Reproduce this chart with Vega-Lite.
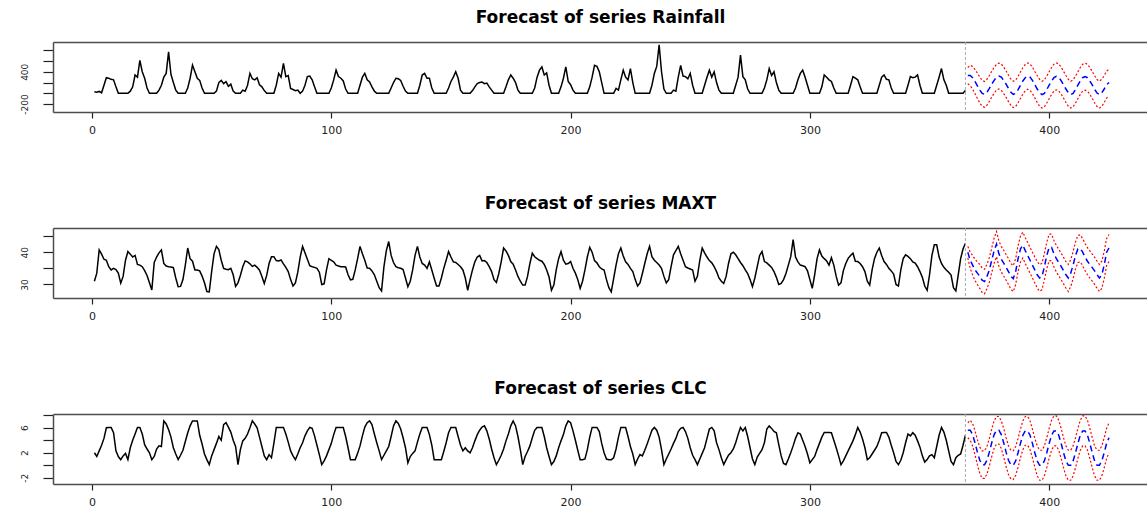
{
"$schema": "https://vega.github.io/schema/vega-lite/v6.json",
"background": "white",
"padding": {"left": 19, "top": 8, "right": 0, "bottom": 0},
"config": {
 "view": {"stroke": null},
 "font": "DejaVu Sans",
 "axis": {"domainColor": "#4d4d4d", "domainWidth": 1.5, "tickColor": "#222222", "tickWidth": 1.2, "labelColor": "#222222", "labelFont": "DejaVu Sans", "grid": false},
 "axisY": {"tickSize": 10, "labelAngle": 270, "labelAlign": "center", "labelBaseline": "bottom", "labelFontSize": 9, "labelPadding": 14},
 "axisX": {"tickSize": 6, "labelPadding": 6, "labelFontSize": 11},
 "title": {"font": "DejaVu Sans", "fontSize": 17, "fontWeight": "bold", "color": "#000000", "anchor": "middle", "frame": "group", "offset": 15, "baseline": "alphabetic"}
},
"datasets": {
"vline": [{"t": 365}],
"hist": [
{"t":1,"r":30,"m":31.0,"c":2.0},{"t":2,"r":20,"m":33.5,"c":1.4},{"t":3,"r":35,"m":40.7,"c":2.3},{"t":4,"r":10,"m":39.4,"c":3.2},{"t":5,"r":150,"m":37.8,"c":4.3},
{"t":6,"r":290,"m":37.5,"c":6.0},{"t":7,"r":280,"m":35.5,"c":6.05},{"t":8,"r":260,"m":34.5,"c":6.05},{"t":9,"r":250,"m":35,"c":5.2},{"t":10,"r":120,"m":34.6,"c":2.3},
{"t":11,"r":0,"m":33.5,"c":1.4},{"t":12,"r":0,"m":30.4,"c":0.9},{"t":13,"r":0,"m":32.5,"c":1.5},{"t":14,"r":0,"m":37.5,"c":1.9},{"t":15,"r":0,"m":40.2,"c":0.9},
{"t":16,"r":40,"m":39.4,"c":2.8},{"t":17,"r":120,"m":38.5,"c":4.0},{"t":18,"r":340,"m":39,"c":5.0},{"t":19,"r":300,"m":36.2,"c":6.05},{"t":20,"r":610,"m":36,"c":6.05},
{"t":21,"r":400,"m":35.5,"c":5.0},{"t":22,"r":280,"m":34.3,"c":3.3},{"t":23,"r":100,"m":32.8,"c":2.6},{"t":24,"r":0,"m":30.5,"c":2.0},{"t":25,"r":0,"m":28.3,"c":0.9},
{"t":26,"r":0,"m":36.8,"c":1.4},{"t":27,"r":0,"m":38.5,"c":2.6},{"t":28,"r":60,"m":39.8,"c":3.1},{"t":29,"r":150,"m":40.7,"c":3.0},{"t":30,"r":300,"m":36.5,"c":7.1},
{"t":31,"r":370,"m":35.7,"c":6.6},{"t":32,"r":770,"m":35.5,"c":5.7},{"t":33,"r":350,"m":35.4,"c":4.5},{"t":34,"r":200,"m":35.2,"c":2.8},{"t":35,"r":60,"m":32,"c":1.8},
{"t":36,"r":0,"m":29.3,"c":0.9},{"t":37,"r":0,"m":29.4,"c":1.6},{"t":38,"r":0,"m":31.5,"c":2.4},{"t":39,"r":0,"m":36,"c":3.8},{"t":40,"r":100,"m":41.3,"c":5.2},
{"t":41,"r":280,"m":38,"c":6.3},{"t":42,"r":525,"m":37.2,"c":7.1},{"t":43,"r":400,"m":34.5,"c":7.1},{"t":44,"r":280,"m":34.5,"c":7.1},{"t":45,"r":240,"m":34.2,"c":4.8},
{"t":46,"r":100,"m":32.6,"c":3.4},{"t":47,"r":0,"m":30.5,"c":1.8},{"t":48,"r":0,"m":27.8,"c":0.9},{"t":49,"r":0,"m":27.7,"c":0.1},{"t":50,"r":0,"m":34,"c":1.5},
{"t":51,"r":0,"m":39.5,"c":2.5},{"t":52,"r":40,"m":41.8,"c":3.5},{"t":53,"r":200,"m":40.8,"c":4.6},{"t":54,"r":240,"m":37.5,"c":4.0},{"t":55,"r":180,"m":35,"c":6.5},
{"t":56,"r":216,"m":34.7,"c":6.8},{"t":57,"r":130,"m":34.6,"c":6.1},{"t":58,"r":170,"m":35,"c":5.3},{"t":59,"r":40,"m":33,"c":4.0},{"t":60,"r":0,"m":29.4,"c":3.0},
{"t":61,"r":0,"m":30.5,"c":0.1},{"t":62,"r":0,"m":32.8,"c":2.5},{"t":63,"r":60,"m":35.5,"c":3.9},{"t":64,"r":40,"m":37.3,"c":4.3},{"t":65,"r":150,"m":37,"c":5.0},
{"t":66,"r":370,"m":36.4,"c":6.0},{"t":67,"r":270,"m":35.6,"c":7.1},{"t":68,"r":250,"m":36,"c":6.6},{"t":69,"r":290,"m":35.3,"c":6.0},{"t":70,"r":160,"m":34.4,"c":4.5},
{"t":71,"r":120,"m":32.5,"c":3.0},{"t":72,"r":50,"m":30.3,"c":1.5},{"t":73,"r":0,"m":32.8,"c":0.9},{"t":74,"r":0,"m":36.5,"c":1.7},{"t":75,"r":0,"m":38.6,"c":1.2},
{"t":76,"r":0,"m":38.6,"c":3.5},{"t":77,"r":150,"m":37.4,"c":6.05},{"t":78,"r":370,"m":37.3,"c":6.05},{"t":79,"r":300,"m":37.6,"c":6.05},{"t":80,"r":555,"m":36.4,"c":6.05},
{"t":81,"r":310,"m":35.3,"c":5.0},{"t":82,"r":330,"m":34,"c":3.7},{"t":83,"r":90,"m":31.5,"c":2.3},{"t":84,"r":70,"m":29.5,"c":1.5},{"t":85,"r":50,"m":30.5,"c":0.9},
{"t":86,"r":60,"m":33.8,"c":1.8},{"t":87,"r":0,"m":38.5,"c":2.8},{"t":88,"r":40,"m":41.8,"c":3.6},{"t":89,"r":150,"m":39.8,"c":4.7},{"t":90,"r":310,"m":37.8,"c":5.5},
{"t":91,"r":320,"m":35.8,"c":6.05},{"t":92,"r":250,"m":35.5,"c":5.9},{"t":93,"r":120,"m":35.3,"c":4.7},{"t":94,"r":0,"m":35,"c":3.2},{"t":95,"r":0,"m":33.8,"c":1.7},
{"t":96,"r":0,"m":30,"c":0.1},{"t":97,"r":0,"m":30.2,"c":0.7},{"t":98,"r":0,"m":34.5,"c":1.5},{"t":99,"r":0,"m":38,"c":2.5},{"t":100,"r":100,"m":37.5,"c":3.5},
{"t":101,"r":250,"m":37,"c":4.9},{"t":102,"r":430,"m":36,"c":6.05},{"t":103,"r":310,"m":35.7,"c":6.05},{"t":104,"r":280,"m":35.5,"c":6.05},{"t":105,"r":230,"m":35.5,"c":6.05},
{"t":106,"r":80,"m":35.4,"c":4.6},{"t":107,"r":0,"m":33,"c":2.8},{"t":108,"r":0,"m":31.4,"c":0.9},{"t":109,"r":0,"m":31.6,"c":0.9},{"t":110,"r":0,"m":34.5,"c":0.9},
{"t":111,"r":0,"m":38,"c":1.9},{"t":112,"r":150,"m":41.8,"c":3.1},{"t":113,"r":300,"m":39.5,"c":4.7},{"t":114,"r":370,"m":37.5,"c":6.1},{"t":115,"r":250,"m":35.1,"c":6.8},
{"t":116,"r":210,"m":35,"c":7.1},{"t":117,"r":120,"m":34.2,"c":6.5},{"t":118,"r":40,"m":33,"c":5.0},{"t":119,"r":0,"m":31,"c":3.6},{"t":120,"r":0,"m":29,"c":2.3},
{"t":121,"r":0,"m":28,"c":0.9},{"t":122,"r":0,"m":35.5,"c":1.6},{"t":123,"r":0,"m":40.5,"c":2.3},{"t":124,"r":0,"m":43.3,"c":3.0},{"t":125,"r":100,"m":39,"c":4.6},
{"t":126,"r":200,"m":36.8,"c":6.3},{"t":127,"r":280,"m":35.5,"c":7.1},{"t":128,"r":270,"m":35.2,"c":6.7},{"t":129,"r":240,"m":35,"c":5.8},{"t":130,"r":130,"m":34.6,"c":4.4},
{"t":131,"r":40,"m":32,"c":2.8},{"t":132,"r":0,"m":29.3,"c":0.4},{"t":133,"r":0,"m":31,"c":1.4},{"t":134,"r":0,"m":34.5,"c":1.9},{"t":135,"r":0,"m":39,"c":2.3},
{"t":136,"r":0,"m":41.8,"c":3.7},{"t":137,"r":150,"m":38.5,"c":5.0},{"t":138,"r":340,"m":36.5,"c":6.05},{"t":139,"r":370,"m":36,"c":6.05},{"t":140,"r":280,"m":35,"c":6.05},
{"t":141,"r":280,"m":37,"c":4.9},{"t":142,"r":100,"m":34.5,"c":3.2},{"t":143,"r":0,"m":31.9,"c":0.9},{"t":144,"r":0,"m":29.5,"c":0.9},{"t":145,"r":0,"m":29.5,"c":0.9},
{"t":146,"r":0,"m":32,"c":0.9},{"t":147,"r":0,"m":35,"c":2.2},{"t":148,"r":0,"m":37.5,"c":3.6},{"t":149,"r":100,"m":40.2,"c":5.2},{"t":150,"r":220,"m":38.5,"c":6.05},
{"t":151,"r":300,"m":37,"c":6.05},{"t":152,"r":400,"m":36.8,"c":6.05},{"t":153,"r":280,"m":36.2,"c":4.6},{"t":154,"r":60,"m":35.5,"c":3.2},{"t":155,"r":0,"m":34.5,"c":2.3},
{"t":156,"r":0,"m":32,"c":2.8},{"t":157,"r":0,"m":28.2,"c":2.3},{"t":158,"r":0,"m":31.5,"c":2.0},{"t":159,"r":50,"m":34.5,"c":2.8},{"t":160,"r":120,"m":37,"c":3.9},
{"t":161,"r":180,"m":38.5,"c":4.9},{"t":162,"r":200,"m":39,"c":5.6},{"t":163,"r":210,"m":37.3,"c":6.1},{"t":164,"r":180,"m":37.4,"c":6.3},{"t":165,"r":190,"m":36.8,"c":5.5},
{"t":166,"r":120,"m":35.5,"c":4.2},{"t":167,"r":60,"m":34,"c":2.6},{"t":168,"r":0,"m":31.5,"c":1.2},{"t":169,"r":0,"m":30.6,"c":0.1},{"t":170,"r":0,"m":33.4,"c":0.8},
{"t":171,"r":0,"m":37,"c":1.6},{"t":172,"r":0,"m":41.3,"c":2.6},{"t":173,"r":120,"m":40.4,"c":3.9},{"t":174,"r":250,"m":39,"c":5.0},{"t":175,"r":340,"m":37.1,"c":6.3},
{"t":176,"r":280,"m":36.3,"c":7.1},{"t":177,"r":200,"m":34.5,"c":6.3},{"t":178,"r":60,"m":32.5,"c":4.6},{"t":179,"r":0,"m":31,"c":2.5},{"t":180,"r":0,"m":29.8,"c":0.1},
{"t":181,"r":0,"m":29.8,"c":1.4},{"t":182,"r":0,"m":32.5,"c":2.2},{"t":183,"r":0,"m":36.5,"c":3.1},{"t":184,"r":0,"m":39.7,"c":4.4},{"t":185,"r":100,"m":38.6,"c":5.6},
{"t":186,"r":300,"m":38,"c":6.05},{"t":187,"r":430,"m":37.5,"c":6.05},{"t":188,"r":490,"m":37.2,"c":6.05},{"t":189,"r":340,"m":36.2,"c":4.6},{"t":190,"r":380,"m":34.5,"c":2.8},
{"t":191,"r":150,"m":32.3,"c":1.4},{"t":192,"r":0,"m":28.2,"c":0.1},{"t":193,"r":0,"m":29.8,"c":0.6},{"t":194,"r":0,"m":34.5,"c":1.5},{"t":195,"r":0,"m":38,"c":2.8},
{"t":196,"r":120,"m":40.2,"c":3.9},{"t":197,"r":280,"m":37.5,"c":4.9},{"t":198,"r":490,"m":36.3,"c":6.3},{"t":199,"r":220,"m":36.5,"c":7.1},{"t":200,"r":160,"m":37.1,"c":6.8},
{"t":201,"r":60,"m":35,"c":5.5},{"t":202,"r":0,"m":33.5,"c":4.0},{"t":203,"r":0,"m":31.5,"c":2.4},{"t":204,"r":0,"m":28.8,"c":0.9},{"t":205,"r":0,"m":31,"c":0.9},
{"t":206,"r":0,"m":34.5,"c":1.0},{"t":207,"r":0,"m":38.5,"c":2.5},{"t":208,"r":120,"m":41.5,"c":4.5},{"t":209,"r":300,"m":40,"c":6.05},{"t":210,"r":520,"m":37.4,"c":6.05},
{"t":211,"r":500,"m":36.7,"c":6.05},{"t":212,"r":400,"m":35.5,"c":5.4},{"t":213,"r":200,"m":34.8,"c":3.5},{"t":214,"r":0,"m":34.5,"c":2.0},{"t":215,"r":0,"m":31.5,"c":1.0},
{"t":216,"r":0,"m":29,"c":0.9},{"t":217,"r":0,"m":27.7,"c":0.9},{"t":218,"r":0,"m":31.9,"c":1.2},{"t":219,"r":90,"m":36,"c":2.6},{"t":220,"r":60,"m":39.5,"c":4.5},
{"t":221,"r":250,"m":41.3,"c":6.05},{"t":222,"r":430,"m":38.8,"c":6.05},{"t":223,"r":300,"m":37,"c":6.05},{"t":224,"r":250,"m":36.2,"c":4.6},{"t":225,"r":460,"m":35,"c":3.0},
{"t":226,"r":200,"m":34,"c":1.8},{"t":227,"r":0,"m":31.5,"c":0.1},{"t":228,"r":0,"m":29.5,"c":1.0},{"t":229,"r":0,"m":30.5,"c":1.7},{"t":230,"r":0,"m":33.4,"c":1.5},
{"t":231,"r":0,"m":36.5,"c":2.4},{"t":232,"r":0,"m":39.5,"c":3.4},{"t":233,"r":0,"m":41.8,"c":4.5},{"t":234,"r":150,"m":38.6,"c":5.6},{"t":235,"r":370,"m":37.5,"c":6.05},
{"t":236,"r":500,"m":36.8,"c":5.6},{"t":237,"r":900,"m":36,"c":4.5},{"t":238,"r":400,"m":35,"c":2.5},{"t":239,"r":80,"m":32.5,"c":0.1},{"t":240,"r":0,"m":30.5,"c":1.0},
{"t":241,"r":0,"m":31.5,"c":1.8},{"t":242,"r":0,"m":35.5,"c":2.6},{"t":243,"r":60,"m":39.2,"c":3.5},{"t":244,"r":40,"m":40.5,"c":4.3},{"t":245,"r":300,"m":41.8,"c":5.4},
{"t":246,"r":520,"m":39.5,"c":5.9},{"t":247,"r":320,"m":37.5,"c":6.05},{"t":248,"r":310,"m":35.5,"c":5.4},{"t":249,"r":270,"m":35.1,"c":4.3},{"t":250,"r":370,"m":34.8,"c":2.8},
{"t":251,"r":150,"m":34.5,"c":1.6},{"t":252,"r":0,"m":31,"c":0.9},{"t":253,"r":0,"m":32.5,"c":0.1},{"t":254,"r":0,"m":37.5,"c":1.0},{"t":255,"r":0,"m":41.3,"c":1.9},
{"t":256,"r":150,"m":39.8,"c":2.8},{"t":257,"r":300,"m":38.5,"c":4.3},{"t":258,"r":430,"m":37.4,"c":5.8},{"t":259,"r":300,"m":36.7,"c":6.05},{"t":260,"r":400,"m":35.5,"c":5.5},
{"t":261,"r":200,"m":34,"c":3.6},{"t":262,"r":60,"m":32,"c":2.5},{"t":263,"r":0,"m":31,"c":1.2},{"t":264,"r":0,"m":30.3,"c":0.1},{"t":265,"r":0,"m":32.5,"c":0.9},
{"t":266,"r":0,"m":36.5,"c":1.6},{"t":267,"r":0,"m":39.5,"c":2.0},{"t":268,"r":0,"m":40,"c":2.6},{"t":269,"r":150,"m":39.2,"c":3.6},{"t":270,"r":300,"m":38,"c":4.9},
{"t":271,"r":710,"m":36.8,"c":6.05},{"t":272,"r":310,"m":35.8,"c":5.5},{"t":273,"r":250,"m":34.5,"c":6.05},{"t":274,"r":80,"m":33.4,"c":4.6},{"t":275,"r":0,"m":31.5,"c":2.8},
{"t":276,"r":0,"m":29.3,"c":1.0},{"t":277,"r":0,"m":32,"c":0.1},{"t":278,"r":0,"m":35.5,"c":1.3},{"t":279,"r":0,"m":39,"c":1.9},{"t":280,"r":0,"m":40.2,"c":2.5},
{"t":281,"r":100,"m":37.1,"c":3.6},{"t":282,"r":250,"m":36.7,"c":5.8},{"t":283,"r":460,"m":36,"c":6.3},{"t":284,"r":330,"m":35.3,"c":5.9},{"t":285,"r":400,"m":34,"c":5.4},
{"t":286,"r":200,"m":32.2,"c":5.2},{"t":287,"r":60,"m":30,"c":3.3},{"t":288,"r":0,"m":30.3,"c":1.5},{"t":289,"r":0,"m":31.5,"c":0.3},{"t":290,"r":0,"m":33.4,"c":0.1},
{"t":291,"r":0,"m":36,"c":1.0},{"t":292,"r":0,"m":38.6,"c":2.0},{"t":293,"r":0,"m":43.9,"c":3.1},{"t":294,"r":100,"m":38.5,"c":4.3},{"t":295,"r":250,"m":37,"c":5.2},
{"t":296,"r":370,"m":36,"c":5.0},{"t":297,"r":430,"m":35.8,"c":4.0},{"t":298,"r":300,"m":35.5,"c":3.0},{"t":299,"r":150,"m":34.2,"c":1.8},{"t":300,"r":0,"m":31.5,"c":0.4},
{"t":301,"r":0,"m":28.8,"c":0.9},{"t":302,"r":0,"m":33,"c":1.4},{"t":303,"r":0,"m":38,"c":2.5},{"t":304,"r":0,"m":40.7,"c":3.5},{"t":305,"r":120,"m":38.8,"c":4.5},
{"t":306,"r":340,"m":38,"c":5.24},{"t":307,"r":300,"m":37.3,"c":5.24},{"t":308,"r":250,"m":36,"c":5.24},{"t":309,"r":220,"m":38.3,"c":5.2},{"t":310,"r":100,"m":36,"c":4.0},
{"t":311,"r":0,"m":32.5,"c":2.8},{"t":312,"r":0,"m":29.8,"c":1.5},{"t":313,"r":0,"m":30.5,"c":0.1},{"t":314,"r":0,"m":34.3,"c":0.7},{"t":315,"r":0,"m":36.5,"c":1.5},
{"t":316,"r":0,"m":38.1,"c":2.3},{"t":317,"r":150,"m":39,"c":3.1},{"t":318,"r":310,"m":39.7,"c":3.9},{"t":319,"r":280,"m":37.2,"c":4.9},{"t":320,"r":250,"m":37.1,"c":6.05},
{"t":321,"r":120,"m":36.5,"c":5.3},{"t":322,"r":0,"m":35.5,"c":4.2},{"t":323,"r":0,"m":34,"c":2.8},{"t":324,"r":0,"m":31,"c":0.9},{"t":325,"r":0,"m":29.8,"c":1.2},
{"t":326,"r":0,"m":34.5,"c":1.8},{"t":327,"r":0,"m":38,"c":2.4},{"t":328,"r":0,"m":40,"c":3.0},{"t":329,"r":150,"m":41.3,"c":4.0},{"t":330,"r":300,"m":39,"c":5.2},
{"t":331,"r":340,"m":37.1,"c":5.24},{"t":332,"r":260,"m":36.2,"c":5.24},{"t":333,"r":250,"m":35,"c":4.5},{"t":334,"r":100,"m":34.2,"c":3.2},{"t":335,"r":0,"m":33.2,"c":2.0},
{"t":336,"r":0,"m":30,"c":0.6},{"t":337,"r":0,"m":29.5,"c":0.1},{"t":338,"r":0,"m":34.5,"c":0.8},{"t":339,"r":0,"m":38,"c":2.0},{"t":340,"r":0,"m":39.2,"c":3.6},
{"t":341,"r":150,"m":38.7,"c":5.0},{"t":342,"r":310,"m":38,"c":4.7},{"t":343,"r":290,"m":37,"c":5.2},{"t":344,"r":300,"m":36.6,"c":4.8},{"t":345,"r":340,"m":35.5,"c":3.9},
{"t":346,"r":150,"m":34,"c":2.9},{"t":347,"r":0,"m":32.2,"c":1.5},{"t":348,"r":0,"m":29.5,"c":0.5},{"t":349,"r":0,"m":28.2,"c":0.9},{"t":350,"r":0,"m":33,"c":1.5},
{"t":351,"r":0,"m":39,"c":1.7},{"t":352,"r":0,"m":42.3,"c":1.2},{"t":353,"r":150,"m":42.3,"c":3.0},{"t":354,"r":300,"m":38.5,"c":4.8},{"t":355,"r":460,"m":36.5,"c":6.05},
{"t":356,"r":250,"m":35.3,"c":5.3},{"t":357,"r":150,"m":34.5,"c":4.0},{"t":358,"r":0,"m":33.8,"c":2.3},{"t":359,"r":0,"m":32.9,"c":0.6},{"t":360,"r":0,"m":29,"c":0.1},
{"t":361,"r":0,"m":28,"c":1.2},{"t":362,"r":0,"m":33,"c":1.6},{"t":363,"r":0,"m":38,"c":1.8},{"t":364,"r":0,"m":41,"c":3.2},{"t":365,"r":50,"m":42.8,"c":4.8}
],
"fc": [
{"t":366,"rm":330,"rl":180,"ru":480,"mm":40,"ml":38.2,"mu":41.8,"cm":5.6,"cl":4.4,"cu":6.8},
{"t":367,"rm":330,"rl":140,"ru":520,"mm":37.5,"ml":35,"mu":40,"cm":5.6,"cl":4.0,"cu":7.2},
{"t":368,"rm":290,"rl":80,"ru":500,"mm":36,"ml":33,"mu":39,"cm":4.9,"cl":3.1,"cu":6.7},
{"t":369,"rm":220,"rl":-5,"ru":445,"mm":34.5,"ml":31.2,"mu":37.8,"cm":3.6,"cl":1.7,"cu":5.5},
{"t":370,"rm":140,"rl":-95,"ru":375,"mm":33.5,"ml":30,"mu":37,"cm":2.1,"cl":0.1,"cu":4.1},
{"t":371,"rm":60,"rl":-180,"ru":300,"mm":32.5,"ml":28.8,"mu":36.2,"cm":0.8,"cl":-1.3,"cu":2.9},
{"t":372,"rm":0,"rl":-240,"ru":240,"mm":31.3,"ml":27.5,"mu":35.1,"cm":0.1,"cl":-2.1,"cu":2.3},
{"t":373,"rm":-20,"rl":-260,"ru":220,"mm":30.9,"ml":27.1,"mu":34.7,"cm":0.1,"cl":-2.1,"cu":2.3},
{"t":374,"rm":20,"rl":-220,"ru":260,"mm":32.5,"ml":28.7,"mu":36.3,"cm":0.8,"cl":-1.4,"cu":3.0},
{"t":375,"rm":90,"rl":-150,"ru":330,"mm":34.5,"ml":30.7,"mu":38.3,"cm":2.1,"cl":-0.1,"cu":4.3},
{"t":376,"rm":170,"rl":-70,"ru":410,"mm":37.5,"ml":33.7,"mu":41.3,"cm":3.6,"cl":1.4,"cu":5.8},
{"t":377,"rm":240,"rl":0,"ru":480,"mm":40.5,"ml":36.6,"mu":44.4,"cm":4.9,"cl":2.7,"cu":7.1},
{"t":378,"rm":300,"rl":60,"ru":540,"mm":42.5,"ml":38.6,"mu":46.4,"cm":5.6,"cl":3.4,"cu":7.8},
{"t":379,"rm":320,"rl":80,"ru":560,"mm":39.5,"ml":35.6,"mu":43.4,"cm":5.6,"cl":3.4,"cu":7.8},
{"t":380,"rm":300,"rl":55,"ru":545,"mm":37.8,"ml":33.8,"mu":41.8,"cm":4.9,"cl":2.7,"cu":7.1},
{"t":381,"rm":240,"rl":-5,"ru":485,"mm":36.6,"ml":32.6,"mu":40.6,"cm":3.6,"cl":1.3,"cu":5.9},
{"t":382,"rm":170,"rl":-75,"ru":415,"mm":35.3,"ml":31.3,"mu":39.3,"cm":2.1,"cl":-0.2,"cu":4.4},
{"t":383,"rm":90,"rl":-155,"ru":335,"mm":34,"ml":30,"mu":38,"cm":0.8,"cl":-1.5,"cu":3.1},
{"t":384,"rm":20,"rl":-225,"ru":265,"mm":32.5,"ml":28.5,"mu":36.5,"cm":0.1,"cl":-2.2,"cu":2.4},
{"t":385,"rm":-20,"rl":-265,"ru":225,"mm":31.8,"ml":27.8,"mu":35.8,"cm":0.0,"cl":-2.3,"cu":2.3},
{"t":386,"rm":0,"rl":-245,"ru":245,"mm":34,"ml":30,"mu":38,"cm":0.7,"cl":-1.6,"cu":3.0},
{"t":387,"rm":70,"rl":-175,"ru":315,"mm":38,"ml":34,"mu":42,"cm":2.0,"cl":-0.3,"cu":4.3},
{"t":388,"rm":150,"rl":-95,"ru":395,"mm":41,"ml":37,"mu":45,"cm":3.5,"cl":1.2,"cu":5.8},
{"t":389,"rm":230,"rl":-15,"ru":475,"mm":42.2,"ml":38.2,"mu":46.2,"cm":4.8,"cl":2.5,"cu":7.1},
{"t":390,"rm":290,"rl":45,"ru":535,"mm":40.5,"ml":36.5,"mu":44.5,"cm":5.5,"cl":3.2,"cu":7.8},
{"t":391,"rm":320,"rl":75,"ru":565,"mm":39,"ml":35,"mu":43,"cm":5.5,"cl":3.2,"cu":7.8},
{"t":392,"rm":300,"rl":55,"ru":545,"mm":37.5,"ml":33.5,"mu":41.5,"cm":4.8,"cl":2.5,"cu":7.1},
{"t":393,"rm":240,"rl":-5,"ru":485,"mm":36,"ml":32,"mu":40,"cm":3.5,"cl":1.2,"cu":5.8},
{"t":394,"rm":160,"rl":-85,"ru":405,"mm":34.5,"ml":30.5,"mu":38.5,"cm":2.0,"cl":-0.3,"cu":4.3},
{"t":395,"rm":80,"rl":-170,"ru":330,"mm":33,"ml":28.9,"mu":37.1,"cm":0.7,"cl":-1.7,"cu":3.1},
{"t":396,"rm":10,"rl":-240,"ru":260,"mm":32,"ml":27.9,"mu":36.1,"cm":0.0,"cl":-2.4,"cu":2.4},
{"t":397,"rm":-25,"rl":-275,"ru":225,"mm":32.5,"ml":28.4,"mu":36.6,"cm":0.0,"cl":-2.4,"cu":2.4},
{"t":398,"rm":0,"rl":-250,"ru":250,"mm":35.5,"ml":31.4,"mu":39.6,"cm":0.7,"cl":-1.7,"cu":3.1},
{"t":399,"rm":70,"rl":-180,"ru":320,"mm":39,"ml":34.9,"mu":43.1,"cm":2.0,"cl":-0.4,"cu":4.4},
{"t":400,"rm":150,"rl":-100,"ru":400,"mm":41.5,"ml":37.4,"mu":45.6,"cm":3.5,"cl":1.1,"cu":5.9},
{"t":401,"rm":230,"rl":-20,"ru":480,"mm":41.5,"ml":37.4,"mu":45.6,"cm":4.8,"cl":2.4,"cu":7.2},
{"t":402,"rm":290,"rl":40,"ru":540,"mm":39.5,"ml":35.4,"mu":43.6,"cm":5.5,"cl":3.1,"cu":7.9},
{"t":403,"rm":315,"rl":65,"ru":565,"mm":38,"ml":33.9,"mu":42.1,"cm":5.5,"cl":3.1,"cu":7.9},
{"t":404,"rm":295,"rl":45,"ru":545,"mm":36.8,"ml":32.7,"mu":40.9,"cm":4.8,"cl":2.4,"cu":7.2},
{"t":405,"rm":235,"rl":-15,"ru":485,"mm":35.6,"ml":31.5,"mu":39.7,"cm":3.5,"cl":1.1,"cu":5.9},
{"t":406,"rm":160,"rl":-90,"ru":410,"mm":34.3,"ml":30.2,"mu":38.4,"cm":2.0,"cl":-0.4,"cu":4.4},
{"t":407,"rm":80,"rl":-170,"ru":330,"mm":33,"ml":28.9,"mu":37.1,"cm":0.7,"cl":-1.7,"cu":3.1},
{"t":408,"rm":10,"rl":-240,"ru":260,"mm":32,"ml":27.8,"mu":36.2,"cm":0.0,"cl":-2.4,"cu":2.4},
{"t":409,"rm":-25,"rl":-275,"ru":225,"mm":33.5,"ml":29.3,"mu":37.7,"cm":0.0,"cl":-2.4,"cu":2.4},
{"t":410,"rm":0,"rl":-250,"ru":250,"mm":36,"ml":31.8,"mu":40.2,"cm":0.7,"cl":-1.7,"cu":3.1},
{"t":411,"rm":70,"rl":-180,"ru":320,"mm":39,"ml":34.8,"mu":43.2,"cm":2.0,"cl":-0.4,"cu":4.4},
{"t":412,"rm":150,"rl":-100,"ru":400,"mm":41,"ml":36.8,"mu":45.2,"cm":3.5,"cl":1.1,"cu":5.9},
{"t":413,"rm":230,"rl":-20,"ru":480,"mm":41.2,"ml":37,"mu":45.4,"cm":4.8,"cl":2.4,"cu":7.2},
{"t":414,"rm":290,"rl":40,"ru":540,"mm":40,"ml":35.8,"mu":44.2,"cm":5.5,"cl":3.1,"cu":7.9},
{"t":415,"rm":310,"rl":60,"ru":560,"mm":38.5,"ml":34.3,"mu":42.7,"cm":5.5,"cl":3.1,"cu":7.9},
{"t":416,"rm":290,"rl":40,"ru":540,"mm":37.2,"ml":33,"mu":41.4,"cm":4.8,"cl":2.4,"cu":7.2},
{"t":417,"rm":230,"rl":-20,"ru":480,"mm":36.2,"ml":32,"mu":40.4,"cm":3.5,"cl":1.1,"cu":5.9},
{"t":418,"rm":155,"rl":-95,"ru":405,"mm":35.2,"ml":31,"mu":39.4,"cm":2.0,"cl":-0.4,"cu":4.4},
{"t":419,"rm":75,"rl":-175,"ru":325,"mm":34.2,"ml":30,"mu":38.4,"cm":0.7,"cl":-1.7,"cu":3.1},
{"t":420,"rm":5,"rl":-245,"ru":255,"mm":33,"ml":28.8,"mu":37.2,"cm":0.0,"cl":-2.4,"cu":2.4},
{"t":421,"rm":-25,"rl":-275,"ru":225,"mm":32,"ml":27.8,"mu":36.2,"cm":0.0,"cl":-2.4,"cu":2.4},
{"t":422,"rm":10,"rl":-240,"ru":260,"mm":33,"ml":28.8,"mu":37.2,"cm":0.7,"cl":-1.7,"cu":3.1},
{"t":423,"rm":80,"rl":-170,"ru":330,"mm":36,"ml":31.8,"mu":40.2,"cm":2.0,"cl":-0.4,"cu":4.4},
{"t":424,"rm":160,"rl":-90,"ru":410,"mm":40,"ml":35.8,"mu":44.2,"cm":3.5,"cl":1.1,"cu":5.9},
{"t":425,"rm":200,"rl":-50,"ru":450,"mm":41.3,"ml":37.1,"mu":45.5,"cm":4.4,"cl":2.0,"cu":6.8}
]
},
"bounds": "flush",
"spacing": 116,
"vconcat": [
{
 "title": "Forecast of series Rainfall",
 "width": 1095, "height": 70,
 "layer": [
  {"data": {"name": "hist"}, "mark": {"type": "line", "color": "#000000", "strokeWidth": 1.5},
   "encoding": {
    "x": {"field": "t", "type": "quantitative", "scale": {"domain": [-16.3, 441.3], "nice": false, "zero": false}, "axis": {"orient": "bottom", "values": [0, 100, 200, 300, 400], "title": null, "labelOverlap": false}},
    "y": {"field": "r", "type": "quantitative", "scale": {"domain": [-347, 953], "nice": false, "zero": false}, "axis": {"values": [-200, 0, 200, 400, 600, 800], "title": null, "labelOverlap": false, "labelExpr": "datum.value == 400 ? '400' : datum.value == -200 ? '-200' : ''"}}}},
  {"data": {"name": "fc"}, "mark": {"type": "line", "color": "#ff0000", "strokeDash": [2, 2], "strokeWidth": 1.2},
   "encoding": {"x": {"field": "t", "type": "quantitative", "scale": {"domain": [-16.3, 441.3], "nice": false, "zero": false}, "axis": null},
    "y": {"field": "ru", "type": "quantitative", "scale": {"domain": [-347, 953], "nice": false, "zero": false}, "axis": {"values": [-200, 0, 200, 400, 600, 800], "title": null, "labelOverlap": false, "labelExpr": "datum.value == 400 ? '400' : datum.value == -200 ? '-200' : ''"}}}},
  {"data": {"name": "fc"}, "mark": {"type": "line", "color": "#ff0000", "strokeDash": [2, 2], "strokeWidth": 1.2},
   "encoding": {"x": {"field": "t", "type": "quantitative", "scale": {"domain": [-16.3, 441.3], "nice": false, "zero": false}, "axis": null},
    "y": {"field": "rl", "type": "quantitative", "scale": {"domain": [-347, 953], "nice": false, "zero": false}, "axis": {"values": [-200, 0, 200, 400, 600, 800], "title": null, "labelOverlap": false, "labelExpr": "datum.value == 400 ? '400' : datum.value == -200 ? '-200' : ''"}}}},
  {"data": {"name": "fc"}, "mark": {"type": "line", "color": "#0000ff", "strokeDash": [6, 4], "strokeWidth": 1.5},
   "encoding": {"x": {"field": "t", "type": "quantitative", "scale": {"domain": [-16.3, 441.3], "nice": false, "zero": false}, "axis": null},
    "y": {"field": "rm", "type": "quantitative", "scale": {"domain": [-347, 953], "nice": false, "zero": false}, "axis": {"values": [-200, 0, 200, 400, 600, 800], "title": null, "labelOverlap": false, "labelExpr": "datum.value == 400 ? '400' : datum.value == -200 ? '-200' : ''"}}}},
  {"data": {"name": "vline"}, "mark": {"type": "rule", "color": "#aaaaaa", "strokeDash": [3, 2], "strokeWidth": 1},
   "encoding": {"x": {"field": "t", "type": "quantitative", "scale": {"domain": [-16.3, 441.3], "nice": false, "zero": false}, "axis": {"orient": "top", "labels": false, "ticks": false, "title": null, "domain": true}}}}
 ],
 "resolve": {"axis": {"x": "independent"}}
},
{
 "title": "Forecast of series MAXT",
 "width": 1095, "height": 70,
 "layer": [
  {"data": {"name": "hist"}, "mark": {"type": "line", "color": "#000000", "strokeWidth": 1.5},
   "encoding": {
    "x": {"field": "t", "type": "quantitative", "scale": {"domain": [-16.3, 441.3], "nice": false, "zero": false}, "axis": {"orient": "bottom", "values": [0, 100, 200, 300, 400], "title": null, "labelOverlap": false}},
    "y": {"field": "m", "type": "quantitative", "scale": {"domain": [25.8, 47.5], "nice": false, "zero": false}, "axis": {"values": [30, 35, 40, 45], "title": null, "labelOverlap": false, "labelExpr": "datum.value == 30 ? '30' : datum.value == 40 ? '40' : ''"}}}},
  {"data": {"name": "fc"}, "mark": {"type": "line", "color": "#ff0000", "strokeDash": [2, 2], "strokeWidth": 1.2},
   "encoding": {"x": {"field": "t", "type": "quantitative", "scale": {"domain": [-16.3, 441.3], "nice": false, "zero": false}, "axis": null},
    "y": {"field": "mu", "type": "quantitative", "scale": {"domain": [25.8, 47.5], "nice": false, "zero": false}, "axis": {"values": [30, 35, 40, 45], "title": null, "labelOverlap": false, "labelExpr": "datum.value == 30 ? '30' : datum.value == 40 ? '40' : ''"}}}},
  {"data": {"name": "fc"}, "mark": {"type": "line", "color": "#ff0000", "strokeDash": [2, 2], "strokeWidth": 1.2},
   "encoding": {"x": {"field": "t", "type": "quantitative", "scale": {"domain": [-16.3, 441.3], "nice": false, "zero": false}, "axis": null},
    "y": {"field": "ml", "type": "quantitative", "scale": {"domain": [25.8, 47.5], "nice": false, "zero": false}, "axis": {"values": [30, 35, 40, 45], "title": null, "labelOverlap": false, "labelExpr": "datum.value == 30 ? '30' : datum.value == 40 ? '40' : ''"}}}},
  {"data": {"name": "fc"}, "mark": {"type": "line", "color": "#0000ff", "strokeDash": [6, 4], "strokeWidth": 1.5},
   "encoding": {"x": {"field": "t", "type": "quantitative", "scale": {"domain": [-16.3, 441.3], "nice": false, "zero": false}, "axis": null},
    "y": {"field": "mm", "type": "quantitative", "scale": {"domain": [25.8, 47.5], "nice": false, "zero": false}, "axis": {"values": [30, 35, 40, 45], "title": null, "labelOverlap": false, "labelExpr": "datum.value == 30 ? '30' : datum.value == 40 ? '40' : ''"}}}},
  {"data": {"name": "vline"}, "mark": {"type": "rule", "color": "#aaaaaa", "strokeDash": [3, 2], "strokeWidth": 1},
   "encoding": {"x": {"field": "t", "type": "quantitative", "scale": {"domain": [-16.3, 441.3], "nice": false, "zero": false}, "axis": {"orient": "top", "labels": false, "ticks": false, "title": null, "domain": true}}}}
 ],
 "resolve": {"axis": {"x": "independent"}}
},
{
 "title": "Forecast of series CLC",
 "width": 1095, "height": 70,
 "layer": [
  {"data": {"name": "hist"}, "mark": {"type": "line", "color": "#000000", "strokeWidth": 1.5},
   "encoding": {
    "x": {"field": "t", "type": "quantitative", "scale": {"domain": [-16.3, 441.3], "nice": false, "zero": false}, "axis": {"orient": "bottom", "values": [0, 100, 200, 300, 400], "title": null, "labelOverlap": false}},
    "y": {"field": "c", "type": "quantitative", "scale": {"domain": [-3.0, 8.2], "nice": false, "zero": false}, "axis": {"values": [-2, 0, 2, 4, 6, 8], "title": null, "labelOverlap": false, "labelExpr": "datum.value == 6 ? '6' : datum.value == 2 ? '2' : datum.value == -2 ? '-2' : ''"}}}},
  {"data": {"name": "fc"}, "mark": {"type": "line", "color": "#ff0000", "strokeDash": [2, 2], "strokeWidth": 1.2},
   "encoding": {"x": {"field": "t", "type": "quantitative", "scale": {"domain": [-16.3, 441.3], "nice": false, "zero": false}, "axis": null},
    "y": {"field": "cu", "type": "quantitative", "scale": {"domain": [-3.0, 8.2], "nice": false, "zero": false}, "axis": {"values": [-2, 0, 2, 4, 6, 8], "title": null, "labelOverlap": false, "labelExpr": "datum.value == 6 ? '6' : datum.value == 2 ? '2' : datum.value == -2 ? '-2' : ''"}}}},
  {"data": {"name": "fc"}, "mark": {"type": "line", "color": "#ff0000", "strokeDash": [2, 2], "strokeWidth": 1.2},
   "encoding": {"x": {"field": "t", "type": "quantitative", "scale": {"domain": [-16.3, 441.3], "nice": false, "zero": false}, "axis": null},
    "y": {"field": "cl", "type": "quantitative", "scale": {"domain": [-3.0, 8.2], "nice": false, "zero": false}, "axis": {"values": [-2, 0, 2, 4, 6, 8], "title": null, "labelOverlap": false, "labelExpr": "datum.value == 6 ? '6' : datum.value == 2 ? '2' : datum.value == -2 ? '-2' : ''"}}}},
  {"data": {"name": "fc"}, "mark": {"type": "line", "color": "#0000ff", "strokeDash": [6, 4], "strokeWidth": 1.5},
   "encoding": {"x": {"field": "t", "type": "quantitative", "scale": {"domain": [-16.3, 441.3], "nice": false, "zero": false}, "axis": null},
    "y": {"field": "cm", "type": "quantitative", "scale": {"domain": [-3.0, 8.2], "nice": false, "zero": false}, "axis": {"values": [-2, 0, 2, 4, 6, 8], "title": null, "labelOverlap": false, "labelExpr": "datum.value == 6 ? '6' : datum.value == 2 ? '2' : datum.value == -2 ? '-2' : ''"}}}},
  {"data": {"name": "vline"}, "mark": {"type": "rule", "color": "#aaaaaa", "strokeDash": [3, 2], "strokeWidth": 1},
   "encoding": {"x": {"field": "t", "type": "quantitative", "scale": {"domain": [-16.3, 441.3], "nice": false, "zero": false}, "axis": {"orient": "top", "labels": false, "ticks": false, "title": null, "domain": true}}}}
 ],
 "resolve": {"axis": {"x": "independent"}}
}
]
}
